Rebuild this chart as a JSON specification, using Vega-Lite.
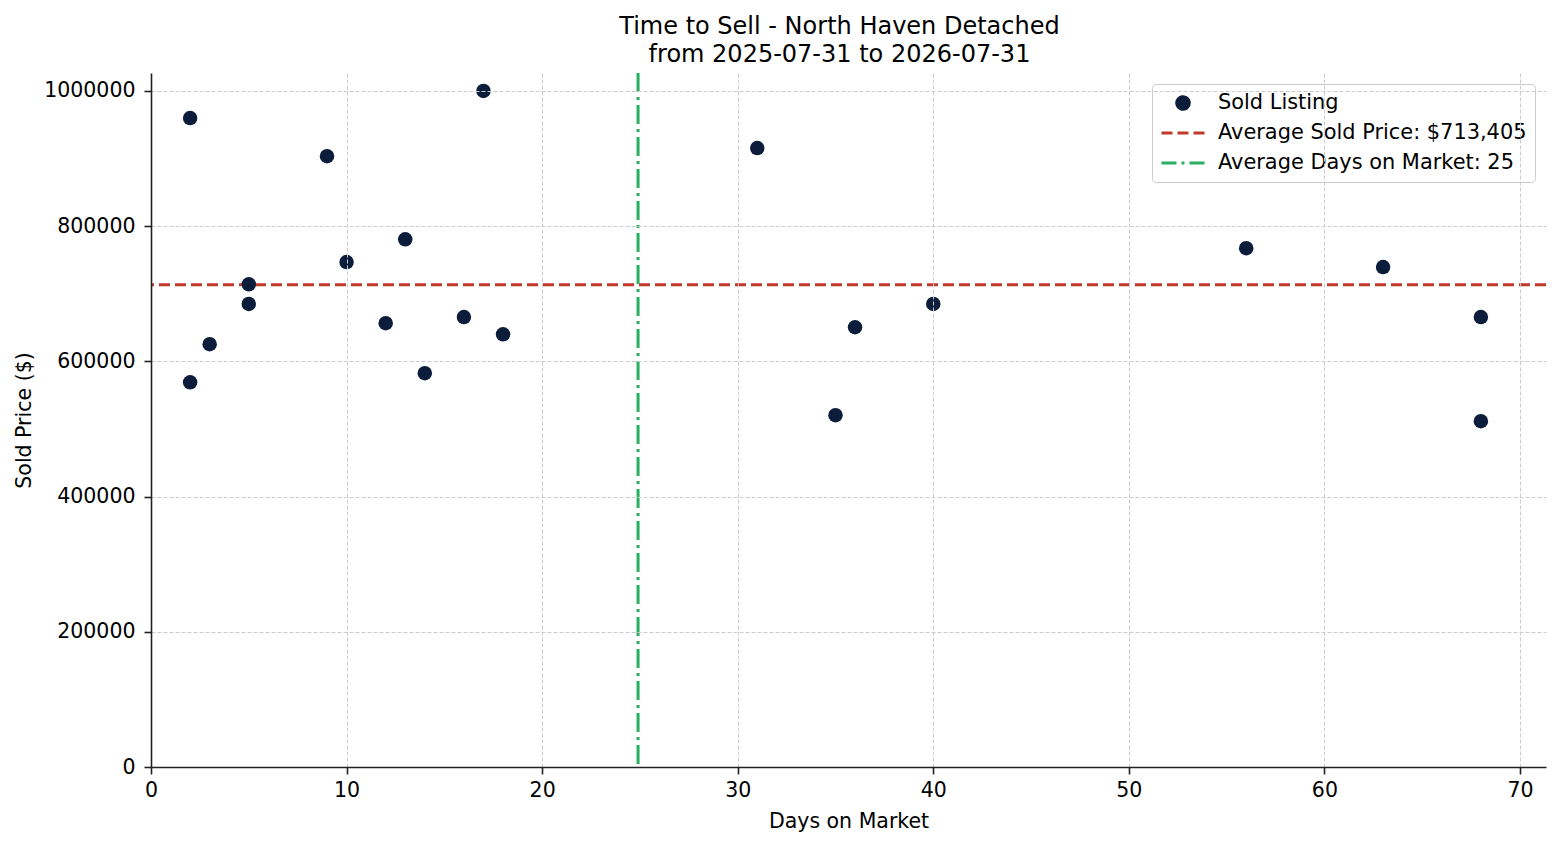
{
  "$schema": "https://vega.github.io/schema/vega-lite/v6.json",
  "autosize": {"type": "none"},
  "width": 1395,
  "height": 694,
  "padding": {"left": 151, "top": 73, "right": 14, "bottom": 78},
  "background": "white",
  "config": {
    "font": "DejaVu Sans",
    "view": {"stroke": null},
    "axis": {
      "labelFont": "DejaVu Sans",
      "labelFontSize": 20.5,
      "labelColor": "black",
      "labelFlush": false,
      "titleFont": "DejaVu Sans",
      "titleFontSize": 20.5,
      "titleFontWeight": "normal",
      "titleColor": "black",
      "domainColor": "#222222",
      "domainWidth": 1.6,
      "tickColor": "#222222",
      "tickWidth": 1.6,
      "tickSize": 7,
      "grid": true,
      "gridColor": "#cccccc",
      "gridWidth": 1,
      "gridDash": [4, 2]
    },
    "legend": {
      "labelFont": "DejaVu Sans",
      "labelFontSize": 20.9,
      "labelColor": "black"
    }
  },
  "title": {
    "text": ["Time to Sell - North Haven Detached", "from 2025-07-31 to 2026-07-31"],
    "font": "DejaVu Sans",
    "fontSize": 24,
    "fontWeight": "normal",
    "color": "black",
    "anchor": "middle",
    "frame": "group",
    "lineHeight": 28.8,
    "offset": 4,
    "dx": -9
  },
  "datasets": {
    "points": [
      {"series": "Sold Listing", "days": 2, "price": 960000},
      {"series": "Sold Listing", "days": 2, "price": 569000},
      {"series": "Sold Listing", "days": 3, "price": 625500},
      {"series": "Sold Listing", "days": 5, "price": 714000},
      {"series": "Sold Listing", "days": 5, "price": 685000},
      {"series": "Sold Listing", "days": 9, "price": 903500},
      {"series": "Sold Listing", "days": 10, "price": 747000},
      {"series": "Sold Listing", "days": 12, "price": 656500},
      {"series": "Sold Listing", "days": 13, "price": 780500},
      {"series": "Sold Listing", "days": 14, "price": 582500},
      {"series": "Sold Listing", "days": 16, "price": 665500},
      {"series": "Sold Listing", "days": 17, "price": 1000000},
      {"series": "Sold Listing", "days": 18, "price": 640000},
      {"series": "Sold Listing", "days": 31, "price": 915500},
      {"series": "Sold Listing", "days": 35, "price": 520500},
      {"series": "Sold Listing", "days": 36, "price": 650500},
      {"series": "Sold Listing", "days": 40, "price": 685000},
      {"series": "Sold Listing", "days": 56, "price": 767500},
      {"series": "Sold Listing", "days": 63, "price": 739500},
      {"series": "Sold Listing", "days": 68, "price": 665500},
      {"series": "Sold Listing", "days": 68, "price": 511500}
    ],
    "avgPrice": [{"series": "Average Sold Price: $713,405", "price": 713405}],
    "avgDays": [{"series": "Average Days on Market: 25", "days": 24.905}]
  },
  "layer": [
    {
      "data": {"name": "avgPrice"},
      "mark": {"type": "rule", "strokeWidth": 3, "strokeDash": [11, 5]},
      "encoding": {
        "y": {"field": "price", "type": "quantitative"},
        "color": {
          "field": "series",
          "type": "nominal",
          "legend": {
            "title": null,
            "orient": "top-right",
            "offset": 11,
            "padding": 8,
            "strokeColor": "#cccccc",
            "fillColor": "rgba(255,255,255,0.8)",
            "cornerRadius": 4,
            "symbolSize": 1849,
            "symbolStrokeWidth": 3,
            "clipHeight": 22,
            "rowPadding": 8,
            "labelOffset": 12,
            "labelLimit": 500,
            "encode": {
              "symbols": {
                "update": {
                  "shape": {"signal": "datum.value === 'Sold Listing' ? 'M -0.29 0 A 0.29 0.29 0 1 0 0.29 0 A 0.29 0.29 0 1 0 -0.29 0 Z' : 'stroke'"},
                  "size": {"value": 1849},
                  "fill": {"signal": "datum.value === 'Sold Listing' ? '#0b1d3a' : 'transparent'"},
                  "stroke": {"signal": "datum.value === 'Sold Listing' ? '#0b1d3a' : datum.value === 'Average Sold Price: $713,405' ? '#c0392b' : '#27ae60'"},
                  "strokeWidth": {"value": 3},
                  "strokeDash": {"signal": "datum.value === 'Sold Listing' ? [1, 0] : datum.value === 'Average Sold Price: $713,405' ? [11, 5] : [15, 5, 3, 5]"},
                  "opacity": {"value": 1}
                }
              }
            }
          }
        }
      }
    },
    {
      "data": {"name": "avgDays"},
      "mark": {"type": "rule", "strokeWidth": 3, "strokeDash": [19, 5, 3, 5]},
      "encoding": {
        "x": {"field": "days", "type": "quantitative"},
        "color": {"field": "series", "type": "nominal"}
      }
    },
    {
      "data": {"name": "points"},
      "mark": {"type": "point", "filled": true, "shape": "circle", "size": 210, "opacity": 1},
      "encoding": {
        "x": {
          "field": "days",
          "type": "quantitative",
          "scale": {"domain": [0, 71.33], "nice": false, "zero": false},
          "axis": {
            "title": "Days on Market",
            "values": [0, 10, 20, 30, 40, 50, 60, 70],
            "format": "d",
            "labelPadding": 6,
            "titlePadding": 11,
            "zindex": 1
          }
        },
        "y": {
          "field": "price",
          "type": "quantitative",
          "scale": {"domain": [0, 1026600], "nice": false, "zero": false},
          "axis": {
            "title": "Sold Price ($)",
            "values": [0, 200000, 400000, 600000, 800000, 1000000],
            "format": "d",
            "labelPadding": 9,
            "titlePadding": 9,
            "zindex": 1
          }
        },
        "color": {
          "field": "series",
          "type": "nominal",
          "scale": {
            "domain": ["Sold Listing", "Average Sold Price: $713,405", "Average Days on Market: 25"],
            "range": ["#0b1d3a", "#c0392b", "#27ae60"]
          }
        }
      }
    }
  ]
}
